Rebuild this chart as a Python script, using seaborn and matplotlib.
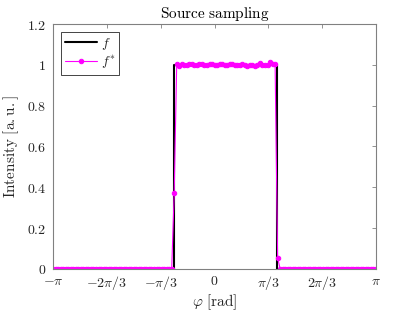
import numpy as np
import matplotlib
matplotlib.use("Agg")
import matplotlib.pyplot as plt
import seaborn as sns

# ---- data ----
phi_min, phi_max = -np.pi, np.pi
edge_left = -0.787
edge_right = 1.218

f_x = [phi_min, edge_left, edge_left, edge_right, edge_right, phi_max]
f_y = [0.0, 0.0, 1.0, 1.0, 0.0, 0.0]

f_star_left = [
    0.0, 0.0, 0.0, 0.0, 0.0, 0.0, 0.0, 0.0, 0.0, 0.0, 0.0, 0.0,
    0.0, 0.0, 0.0, 0.0, 0.0, 0.0, 0.0, 0.0, 0.0, 0.0, 0.0, 0.0,
    0.0, 0.0, 0.0, 0.0, 0.0, 0.0, 0.0, 0.0, 0.0, 0.0, 0.0, 0.0,
    0.0, 0.0, 0.0, 0.0, 0.0, 0.0, 0.0, 0.0, 0.0, 0.0, 0.0, 0.0,
]
f_star_mid = [
    0.37,
    1.005, 0.995, 1.003, 1.000, 0.997, 1.002, 1.004, 1.001, 0.998, 1.003,
    1.005, 1.000, 0.999, 1.004, 1.002, 0.998, 1.001, 1.006, 1.003, 0.999,
    1.000, 1.004, 1.002, 0.998, 0.997, 1.001, 1.003, 0.999, 0.996, 1.000,
    0.998, 0.995, 0.999, 1.008, 0.998, 0.997, 1.000, 1.015, 1.005, 1.002,
    0.055,
]
f_star_right = [
    0.0, 0.0, 0.0, 0.0, 0.0, 0.0, 0.0, 0.0, 0.0, 0.0, 0.0, 0.0,
    0.0, 0.0, 0.0, 0.0, 0.0, 0.0, 0.0, 0.0, 0.0, 0.0, 0.0, 0.0,
    0.0, 0.0, 0.0, 0.0, 0.0, 0.0, 0.0, 0.0, 0.0, 0.0, 0.0, 0.0,
    0.0, 0.0, 0.0,
]
f_star = f_star_left + f_star_mid + f_star_right
phi = np.linspace(phi_min, phi_max, len(f_star))

x_ticks = [-np.pi, -2 * np.pi / 3, -np.pi / 3, 0, np.pi / 3, 2 * np.pi / 3, np.pi]
x_tick_labels = [r'$-\pi$', r'$-2\pi/3$', r'$-\pi/3$', r'$0$', r'$\pi/3$', r'$2\pi/3$', r'$\pi$']
y_ticks = [0, 0.2, 0.4, 0.6, 0.8, 1.0, 1.2]
y_tick_labels = [r'$0$', r'$0.2$', r'$0.4$', r'$0.6$', r'$0.8$', r'$1$', r'$1.2$']

# ---- style ----
sns.set_style("white")
plt.rcParams['mathtext.fontset'] = 'cm'
plt.rcParams['font.family'] = ['DejaVu Serif']

fig = plt.figure(figsize=(4.15, 3.12), dpi=100)
ax = fig.add_axes([0.128, 0.138, 0.778, 0.785])

sns.lineplot(x=f_x, y=f_y, ax=ax, color='black', linewidth=1.5,
             estimator=None, sort=False, label=r'$f$')
sns.lineplot(x=phi, y=f_star, ax=ax, color='#ff00ff', linewidth=0.8,
             marker='o', markersize=3.2, markeredgecolor='#ff00ff',
             estimator=None, sort=False, label=r'$f^{*}$')

ax.set_xlim(phi_min, phi_max)
ax.set_ylim(0, 1.2)
ax.set_xticks(x_ticks)
ax.set_xticklabels(x_tick_labels, fontsize=10)
ax.set_yticks(y_ticks)
ax.set_yticklabels(y_tick_labels, fontsize=10)

axis_col = '#262626'
for s in ax.spines.values():
    s.set_visible(True)
    s.set_color('#808080')
    s.set_linewidth(0.8)
ax.tick_params(direction='in', length=3, width=0.6, colors='#808080',
               top=True, right=True, labelcolor=axis_col)
ax.tick_params(axis='x', pad=4)
ax.tick_params(axis='y', pad=5)

ax.set_xlabel(r'$\varphi\ \mathrm{[rad]}$', fontsize=11, color=axis_col, labelpad=0)
ax.set_ylabel(r'$\mathrm{Intensity\ [a.u.]}$', fontsize=11, color=axis_col, labelpad=4)
ax.set_title(r'$\mathrm{Source\ sampling}$', fontsize=11, color='black', pad=4)

leg = ax.legend(loc='upper left', fontsize=10, frameon=True, fancybox=False,
                edgecolor='#262626', framealpha=1, borderpad=0.25,
                handlelength=2.3, handletextpad=0.3, labelspacing=0.15,
                borderaxespad=0.6)
leg.get_frame().set_linewidth(0.6)

fig.savefig('out.png', dpi=100)
